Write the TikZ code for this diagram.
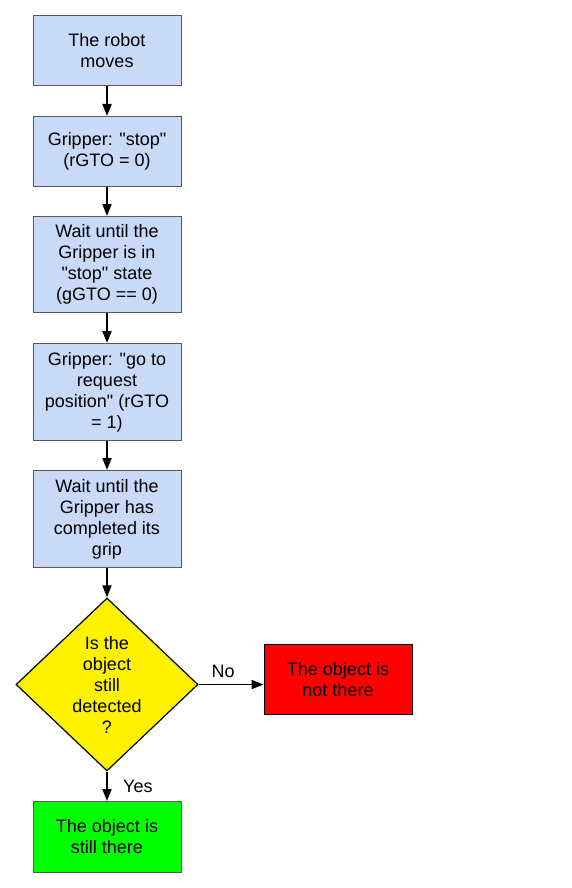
\documentclass[tikz,border=0pt]{standalone}
\usepackage{fontspec}
\setmainfont{Liberation Sans}
\usetikzlibrary{shapes.geometric,arrows.meta}
\definecolor{stepblue}{HTML}{C9DAF8}
\definecolor{edgegray}{HTML}{595959}
\newcommand{\q}{\textquotedbl}
\begin{document}
\begin{tikzpicture}[x=1pt,y=-1pt,>={Triangle[length=12pt,width=9pt]},
    font=\fontsize{18}{21}\selectfont,
    box/.style={draw=edgegray,line width=1pt,fill=stepblue,minimum width=148pt,align=center,inner sep=0pt},
    link/.style={->,line width=1.8pt}]
\useasboundingbox (0,0) rectangle (571,888);
\node[box,minimum height=70pt](robot) at (107,50.5) {The robot\\moves};
\node[box,minimum height=70pt](stop) at (107,151.5) {Gripper: \q stop\q\\(rGTO = 0)};
\node[box,minimum height=96pt](waitstop) at (107,264.5) {Wait until the\\Gripper is in\\\q stop\q\ state\\(gGTO == 0)};
\node[box,minimum height=97pt](goto) at (107,392) {Gripper: \q go to\\request\\position\q\ (rGTO\\= 1)};
\node[box,minimum height=97pt](waitgrip) at (107,519) {Wait until the\\Gripper has\\completed its\\grip};
\node[diamond,draw=black,line width=1.2pt,fill=yellow,inner sep=0pt,minimum width=182pt,minimum height=173pt,align=center](detected) at (107,684.5) {Is the\\object\\still\\detected\\?};
\node[box,draw=black,fill=red,minimum height=70pt](notthere) at (338,679.5) {The object is\\not there};
\node[box,fill=green,minimum height=71pt](there) at (107,837) {The object is\\still there};
\draw[link](robot)--(stop);
\draw[link](stop)--(waitstop);
\draw[link](waitstop)--(goto);
\draw[link](goto)--(waitgrip);
\draw[link](waitgrip)--(detected);
\draw[link](detected.east)--node[above,yshift=3pt,xshift=-8pt]{No}(detected.east-|notthere.west);
\draw[link](detected)--node[right,xshift=12pt]{Yes}(there);
\end{tikzpicture}
\end{document}
